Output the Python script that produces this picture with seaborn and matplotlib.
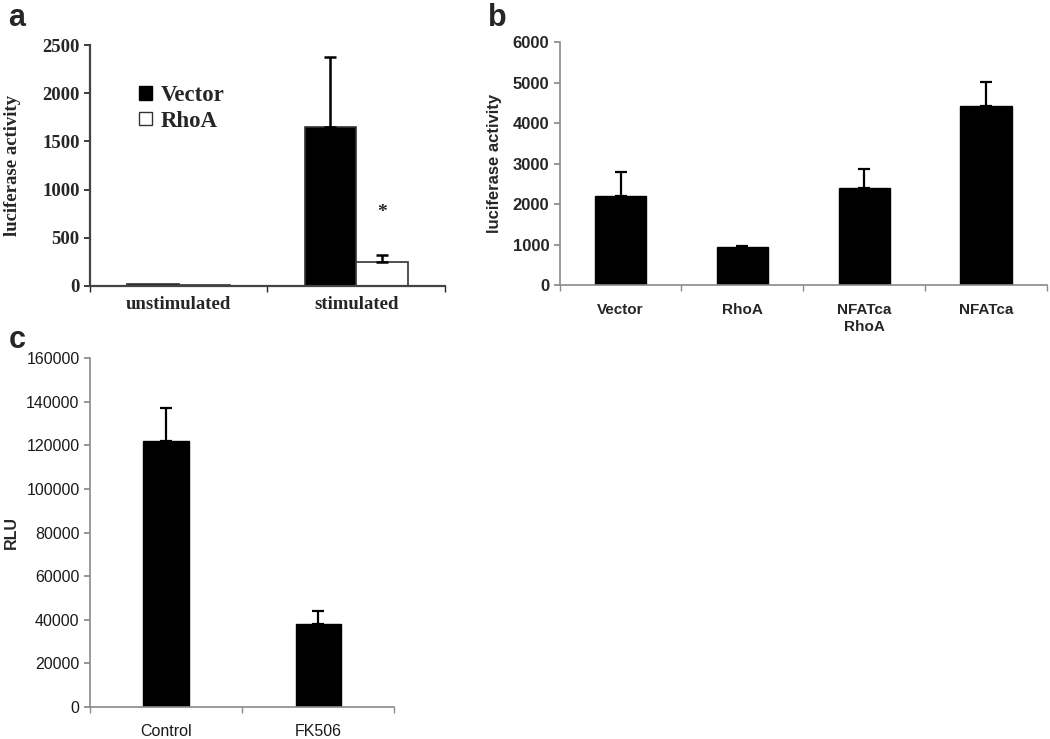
import numpy as np
import pandas as pd
import matplotlib
matplotlib.use("Agg")
import matplotlib.pyplot as plt
import seaborn as sns
from matplotlib.patches import Patch

# Panel a: NFAT reporter, vector vs RhoA
a_conditions = ["unstimulated", "stimulated"]
a_groups = ["Vector", "RhoA"]
a_values = {"Vector": [25, 1650], "RhoA": [12, 250]}
a_errors = {"Vector": [0, 730], "RhoA": [0, 75]}

# Panel b: luciferase activity per construct
b_labels = ["Vector", "RhoA", "NFATca\nRhoA", "NFATca"]
b_values = [2200, 950, 2400, 4430]
b_errors = [600, 30, 480, 580]

# Panel c: RLU, control vs FK506
c_labels = ["Control", "FK506"]
c_values = [122000, 38000]
c_errors = [15000, 6000]

SERIF = ["Liberation Serif", "DejaVu Serif"]
SANS = ["Liberation Sans", "DejaVu Sans"]
GREY = "#8a8a8a"

sns.set_theme(style="white")
plt.rcParams["font.family"] = SANS

fig = plt.figure(figsize=(10.5, 7.39), dpi=100)
ax_a = fig.add_axes([0.0857, 0.613, 0.338, 0.326])
ax_b = fig.add_axes([0.533, 0.614, 0.464, 0.329])
ax_c = fig.add_axes([0.0857, 0.0433, 0.290, 0.472])


def upper_err(ax, patches, errs, lw=1.6, cap=4):
    for p, e in zip(patches, errs):
        if e <= 0:
            continue
        x = p.get_x() + p.get_width() / 2
        ax.errorbar([x], [p.get_height()], yerr=[[0], [e]], fmt="none",
                    ecolor="black", elinewidth=lw, capsize=cap, capthick=lw, zorder=3)


def boundary_ticks(ax, n):
    # excel-style: ticks sit between the categories
    ax.set_xlim(-0.5, n - 0.5)
    ax.set_xticks(np.arange(-0.5, n, 1.0), minor=True)
    ax.tick_params(axis="x", which="major", length=0)
    ax.tick_params(axis="x", which="minor", length=4, direction="out", bottom=True)
    ax.tick_params(axis="y", length=4, direction="out", left=True)


# ---- a ----
df_a = pd.DataFrame([
    {"condition": c, "group": g, "value": a_values[g][i]}
    for g in a_groups for i, c in enumerate(a_conditions)
])
sns.barplot(data=df_a, x="condition", y="value", hue="group", order=a_conditions,
            hue_order=a_groups, palette={"Vector": "black", "RhoA": "white"},
            width=0.58, edgecolor="#333333", linewidth=1.2, errorbar=None,
            legend=False, ax=ax_a)
for g, cont in zip(a_groups, ax_a.containers):
    upper_err(ax_a, cont.patches, a_errors[g], lw=1.8, cap=4)
star_bar = ax_a.containers[1].patches[1]
ax_a.text(star_bar.get_x() + star_bar.get_width() / 2, 760, "*", ha="center",
          va="center", fontsize=14, fontweight="bold", family=SERIF)
ax_a.set_ylim(0, 2500)
ax_a.set_yticks(np.arange(0, 2501, 500))
boundary_ticks(ax_a, len(a_conditions))
ax_a.tick_params(axis="x", which="major", pad=7)
for s in ["top", "right"]:
    ax_a.spines[s].set_visible(False)
for s in ["left", "bottom"]:
    ax_a.spines[s].set_color("#444444")
    ax_a.spines[s].set_linewidth(1.6)
ax_a.set_xlabel("")
ax_a.set_ylabel("luciferase activity", family=SERIF, fontweight="bold", fontsize=13.5)
ax_a.yaxis.set_label_coords(-0.195, 0.5)
for lab in ax_a.get_xticklabels() + ax_a.get_yticklabels():
    lab.set_family(SERIF)
    lab.set_fontweight("bold")
    lab.set_fontsize(13.5)
handles = [Patch(facecolor="black", edgecolor="black", label="Vector"),
           Patch(facecolor="white", edgecolor="#333333", label="RhoA")]
ax_a.legend(handles=handles, loc="upper left", bbox_to_anchor=(0.08, 0.92),
            frameon=False, handlelength=0.55, handleheight=0.55, handletextpad=0.4,
            labelspacing=0.2, prop={"family": SERIF, "weight": "bold", "size": 16.5})

# ---- b ----
df_b = pd.DataFrame({"label": b_labels, "value": b_values})
sns.barplot(data=df_b, x="label", y="value", order=b_labels, color="black",
            width=0.42, edgecolor="black", errorbar=None, ax=ax_b)
upper_err(ax_b, ax_b.patches, b_errors, lw=1.6, cap=4)
ax_b.set_ylim(0, 6000)
ax_b.set_yticks(np.arange(0, 6001, 1000))
boundary_ticks(ax_b, len(b_labels))
for s in ["top", "right"]:
    ax_b.spines[s].set_visible(False)
for s in ["left", "bottom"]:
    ax_b.spines[s].set_color(GREY)
    ax_b.spines[s].set_linewidth(1.2)
ax_b.tick_params(axis="both", which="both", color=GREY)
ax_b.set_xlabel("")
ax_b.set_ylabel("luciferase activity", fontweight="bold", fontsize=12)
ax_b.yaxis.set_label_coords(-0.118, 0.5)
ax_b.tick_params(axis="x", which="major", pad=13)
for lab in ax_b.get_yticklabels():
    lab.set_fontweight("bold")
    lab.set_fontsize(12)
for lab in ax_b.get_xticklabels():
    lab.set_fontweight("bold")
    lab.set_fontsize(11)
    lab.set_verticalalignment("top")

# ---- c ----
df_c = pd.DataFrame({"label": c_labels, "value": c_values})
sns.barplot(data=df_c, x="label", y="value", order=c_labels, color="black",
            width=0.30, edgecolor="black", errorbar=None, ax=ax_c)
upper_err(ax_c, ax_c.patches, c_errors, lw=1.6, cap=4)
ax_c.set_ylim(0, 160000)
ax_c.set_yticks(np.arange(0, 160001, 20000))
boundary_ticks(ax_c, len(c_labels))
for s in ["top", "right"]:
    ax_c.spines[s].set_visible(False)
for s in ["left", "bottom"]:
    ax_c.spines[s].set_color(GREY)
    ax_c.spines[s].set_linewidth(1.2)
ax_c.tick_params(axis="both", which="both", color=GREY, labelsize=11.5, labelcolor="#1a1a1a")
ax_c.tick_params(axis="x", which="major", pad=12)
ax_c.set_xlabel("")
ax_c.set_ylabel("RLU", fontweight="bold", fontsize=11.5)
ax_c.yaxis.set_label_coords(-0.235, 0.5)

# panel letters
fig.text(0.008, 0.975, "a", fontsize=22, fontweight="bold", va="center")
fig.text(0.465, 0.975, "b", fontsize=22, fontweight="bold", va="center")
fig.text(0.008, 0.540, "c", fontsize=22, fontweight="bold", va="center")

fig.savefig("out.png", dpi=100)
